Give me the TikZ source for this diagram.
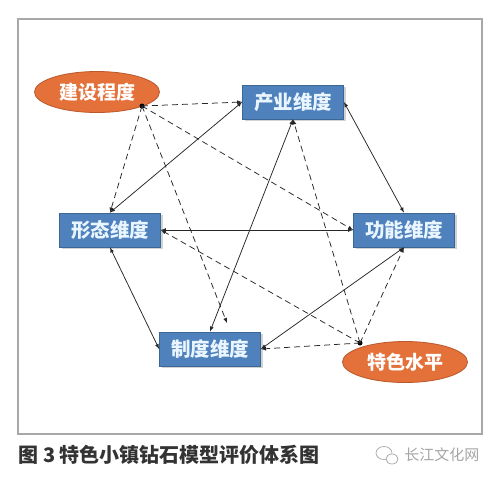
\documentclass[tikz,border=0pt]{standalone}
\usepackage{fontspec}
\newfontfamily\cjk{Noto Sans CJK SC}
\usetikzlibrary{shapes.geometric,shadows}
\definecolor{boxblue}{HTML}{4F81BD}
\definecolor{boxline}{HTML}{3B6796}
\definecolor{boxtext}{HTML}{EAF6FF}
\definecolor{ellorange}{HTML}{E4703A}
\definecolor{ellline}{HTML}{B9582A}
\definecolor{framegray}{HTML}{A8A8A8}
\begin{document}
\begin{tikzpicture}[x=1pt, y=-1pt, >=latex,
  dim/.style={draw=boxline, fill=boxblue, line width=.8pt, minimum width=101pt, minimum height=34pt,
    text=boxtext, font=\cjk\bfseries\fontsize{19.5}{21}\selectfont,
    drop shadow={shadow xshift=2pt, shadow yshift=-2pt, fill=black!35}},
  lvl/.style={ellipse, draw=ellline, fill=ellorange, line width=.8pt, minimum width=125pt, minimum height=41pt,
    inner sep=0pt, text=white, font=\cjk\bfseries\fontsize{19}{21}\selectfont},
  link/.style={<->, line width=.75pt, black!85},
  infl/.style={->, line width=.75pt, black!85, dash pattern=on 6pt off 4pt}]
\useasboundingbox (0,0) rectangle (500,483);
\fill[white] (0,0) rectangle (500,483);
\draw[framegray, line width=1.2pt] (18,19) rectangle (482,434);

% dimensions
\node[dim] (cy) at (293,102) {产业维度};
\node[dim] (xt) at (110,230) {形态维度};
\node[dim] (gn) at (404,230) {功能维度};
\node[dim] (zd) at (210,349) {制度维度};

% levels
\node[lvl] (js) at (97,92) {建设程度};
\node[lvl] (ts) at (405,362) {特色水平};
\coordinate (jsd) at (142,106);
\coordinate (tsd) at (360,343);
\coordinate (zdt) at (227,323);
\fill (jsd) circle (2.5);
\fill (tsd) circle (2.5);

% diamond
\draw[link] (xt.north) -- (cy.west);
\draw[link] (cy.east) -- (gn.north);
\draw[link] (gn.south) -- (zd.east);
\draw[link] (zd.west) -- (xt.south);
\draw[link] (xt.east) -- (gn.west);
\draw[link] (cy.south) -- (zd.north);

% influences
\draw[infl] (jsd) -- (cy.west);
\draw[infl] (jsd) -- (xt.north);
\draw[infl] (jsd) -- (zdt);
\draw[infl] (jsd) -- (gn.west);
\draw[infl] (tsd) -- (cy.south);
\draw[infl] (tsd) -- (xt.east);
\draw[infl] (tsd) -- (gn.south);
\draw[infl] (tsd) -- (zd.east);

% caption
\node[anchor=west, text=black!80, font=\cjk\bfseries\fontsize{20}{22}\selectfont] (cap) at (15,455) {图 3 特色小镇钻石模型评价体系图};
\node[anchor=east, text=black!35, font=\cjk\fontsize{15}{17}\selectfont] (wm) at (483,455) {长江文化网};
\draw[black!35, line width=.7pt] (384,453) ellipse (8 and 6.5);
\draw[black!35, line width=.7pt, fill=white] (392,459) ellipse (6 and 5);
\end{tikzpicture}
\end{document}
